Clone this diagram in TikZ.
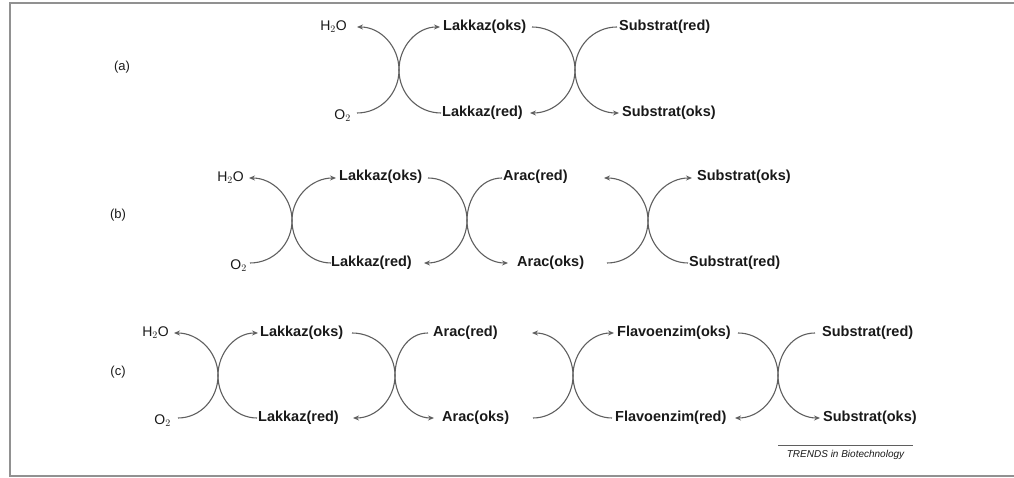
\documentclass[tikz,border=0pt]{standalone}
\usepackage{fontspec}
\setmainfont{Liberation Sans}
\usetikzlibrary{arrows.meta}
\definecolor{lncol}{RGB}{95,95,95}
\definecolor{frmcol}{RGB}{145,145,145}
\definecolor{txtcol}{RGB}{25,25,25}
\begin{document}
\begin{tikzpicture}[x=1pt,y=1pt,
 enz/.style={inner sep=0pt, font=\fontsize{14.5}{16}\selectfont\bfseries, text=txtcol},
 chem/.style={inner sep=0pt, font=\fontsize{14}{16}\selectfont, text=txtcol},
 lbl/.style={inner sep=0pt, font=\fontsize{13}{15}\selectfont, text=txtcol},
 link/.style={draw=lncol, line width=1.1pt},
 go/.style={link, -{Stealth[length=6pt,width=5pt]}},
]
\useasboundingbox (0,0) rectangle (1014,478);
% frame
\draw[frmcol, line width=2.5pt] (1014,475) -- (10,475) -- (10,2) -- (1014,2);

% ---------------- (a) ----------------
\node[lbl] (la) at (122,411) {(a)};
\node[chem, anchor=east] (aH) at (347,451) {H$_2$O};
\node[chem, anchor=east] (aO) at (351,362) {O$_2$};
\node[enz, anchor=west] (aLo) at (443,451) {Lakkaz(oks)};
\node[enz, anchor=west] (aLr) at (442,365) {Lakkaz(red)};
\node[enz, anchor=west] (aSr) at (619,451) {Substrat(red)};
\node[enz, anchor=west] (aSo) at (622,365) {Substrat(oks)};
\coordinate (ac1) at (399,408);
\coordinate (ac2) at (575,408);
\coordinate (a1) at (357,365); \coordinate (a2) at (357,451);
\coordinate (a3) at (441,365); \coordinate (a4) at (440,451);
\coordinate (a5) at (532,451); \coordinate (a6) at (530,365);
\coordinate (a7) at (617,451); \coordinate (a8) at (619,365);
\draw[go] (a1) to[out=0,in=-90] (ac1) to[out=90,in=0] (a2);
\draw[go] (a3) to[out=180,in=-90] (ac1) to[out=90,in=180] (a4);
\draw[go] (a5) to[out=0,in=90] (ac2) to[out=-90,in=0] (a6);
\draw[go] (a7) to[out=180,in=90] (ac2) to[out=-90,in=180] (a8);

% ---------------- (b) ----------------
\node[lbl] (lb) at (118,263) {(b)};
\node[chem, anchor=east] (bH) at (244,300) {H$_2$O};
\node[chem, anchor=east] (bO) at (247,212) {O$_2$};
\node[enz, anchor=west] (bLo) at (339,301) {Lakkaz(oks)};
\node[enz, anchor=west] (bLr) at (331,215) {Lakkaz(red)};
\node[enz, anchor=west] (bAr) at (503,301) {Arac(red)};
\node[enz, anchor=west] (bAo) at (517,215) {Arac(oks)};
\node[enz, anchor=west] (bSo) at (697,301) {Substrat(oks)};
\node[enz, anchor=west] (bSr) at (689,215) {Substrat(red)};
\coordinate (bc1) at (292,257.5);
\coordinate (bc2) at (467,257.5);
\coordinate (bc3) at (648,257.5);
\coordinate (b1) at (250,215); \coordinate (b2) at (249,300);
\coordinate (b3) at (331,215); \coordinate (b4) at (336,300);
\coordinate (b5) at (428,300); \coordinate (b6) at (424,215);
\coordinate (b7) at (502,300); \coordinate (b8) at (508,215);
\coordinate (b9) at (607,215); \coordinate (b10) at (604,300);
\coordinate (b11) at (688,215); \coordinate (b12) at (692,300);
\draw[go] (b1) to[out=0,in=-90] (bc1) to[out=90,in=0] (b2);
\draw[go] (b3) to[out=180,in=-90] (bc1) to[out=90,in=180] (b4);
\draw[go] (b5) to[out=0,in=90] (bc2) to[out=-90,in=0] (b6);
\draw[go] (b7) to[out=180,in=90] (bc2) to[out=-90,in=180] (b8);
\draw[go] (b9) to[out=0,in=-90] (bc3) to[out=90,in=0] (b10);
\draw[go] (b11) to[out=180,in=-90] (bc3) to[out=90,in=180] (b12);

% ---------------- (c) ----------------
\node[lbl] (lc) at (118,106) {(c)};
\node[chem, anchor=east] (cH) at (169,145) {H$_2$O};
\node[chem, anchor=east] (cO) at (171,57) {O$_2$};
\node[enz, anchor=west] (cLo) at (260,145) {Lakkaz(oks)};
\node[enz, anchor=west] (cLr) at (258,60) {Lakkaz(red)};
\node[enz, anchor=west] (cAr) at (433,145) {Arac(red)};
\node[enz, anchor=west] (cAo) at (442,60) {Arac(oks)};
\node[enz, anchor=west] (cFo) at (617,145) {Flavoenzim(oks)};
\node[enz, anchor=west] (cFr) at (615,60) {Flavoenzim(red)};
\node[enz, anchor=west] (cSr) at (822,145) {Substrat(red)};
\node[enz, anchor=west] (cSo) at (823,60) {Substrat(oks)};
\coordinate (cc1) at (218,102.5);
\coordinate (cc2) at (395,102.5);
\coordinate (cc3) at (573,102.5);
\coordinate (cc4) at (778,102.5);
\coordinate (c1) at (178,60); \coordinate (c2) at (174,145);
\coordinate (c3) at (257,60); \coordinate (c4) at (258,145);
\coordinate (c5) at (352,145); \coordinate (c6) at (353,60);
\coordinate (c7) at (428,145); \coordinate (c8) at (434,60);
\coordinate (c9) at (533,60); \coordinate (c10) at (532,145);
\coordinate (c11) at (612,60); \coordinate (c12) at (614,145);
\coordinate (c13) at (738,145); \coordinate (c14) at (735,60);
\coordinate (c15) at (815,145); \coordinate (c16) at (820,60);
\draw[go] (c1) to[out=0,in=-90] (cc1) to[out=90,in=0] (c2);
\draw[go] (c3) to[out=180,in=-90] (cc1) to[out=90,in=180] (c4);
\draw[go] (c5) to[out=0,in=90] (cc2) to[out=-90,in=0] (c6);
\draw[go] (c7) to[out=180,in=90] (cc2) to[out=-90,in=180] (c8);
\draw[go] (c9) to[out=0,in=-90] (cc3) to[out=90,in=0] (c10);
\draw[go] (c11) to[out=180,in=-90] (cc3) to[out=90,in=180] (c12);
\draw[go] (c13) to[out=0,in=90] (cc4) to[out=-90,in=0] (c14);
\draw[go] (c15) to[out=180,in=90] (cc4) to[out=-90,in=180] (c16);

% credit
\node[inner sep=0pt, font=\fontsize{10}{12}\selectfont\itshape, text=txtcol] (trend) at (845.5,23) {TRENDS in Biotechnology};
\coordinate (tl) at (778,33); \coordinate (tr) at (913,33);
\draw[lncol, line width=0.6pt] (tl) -- (tr);
\end{tikzpicture}
\end{document}
